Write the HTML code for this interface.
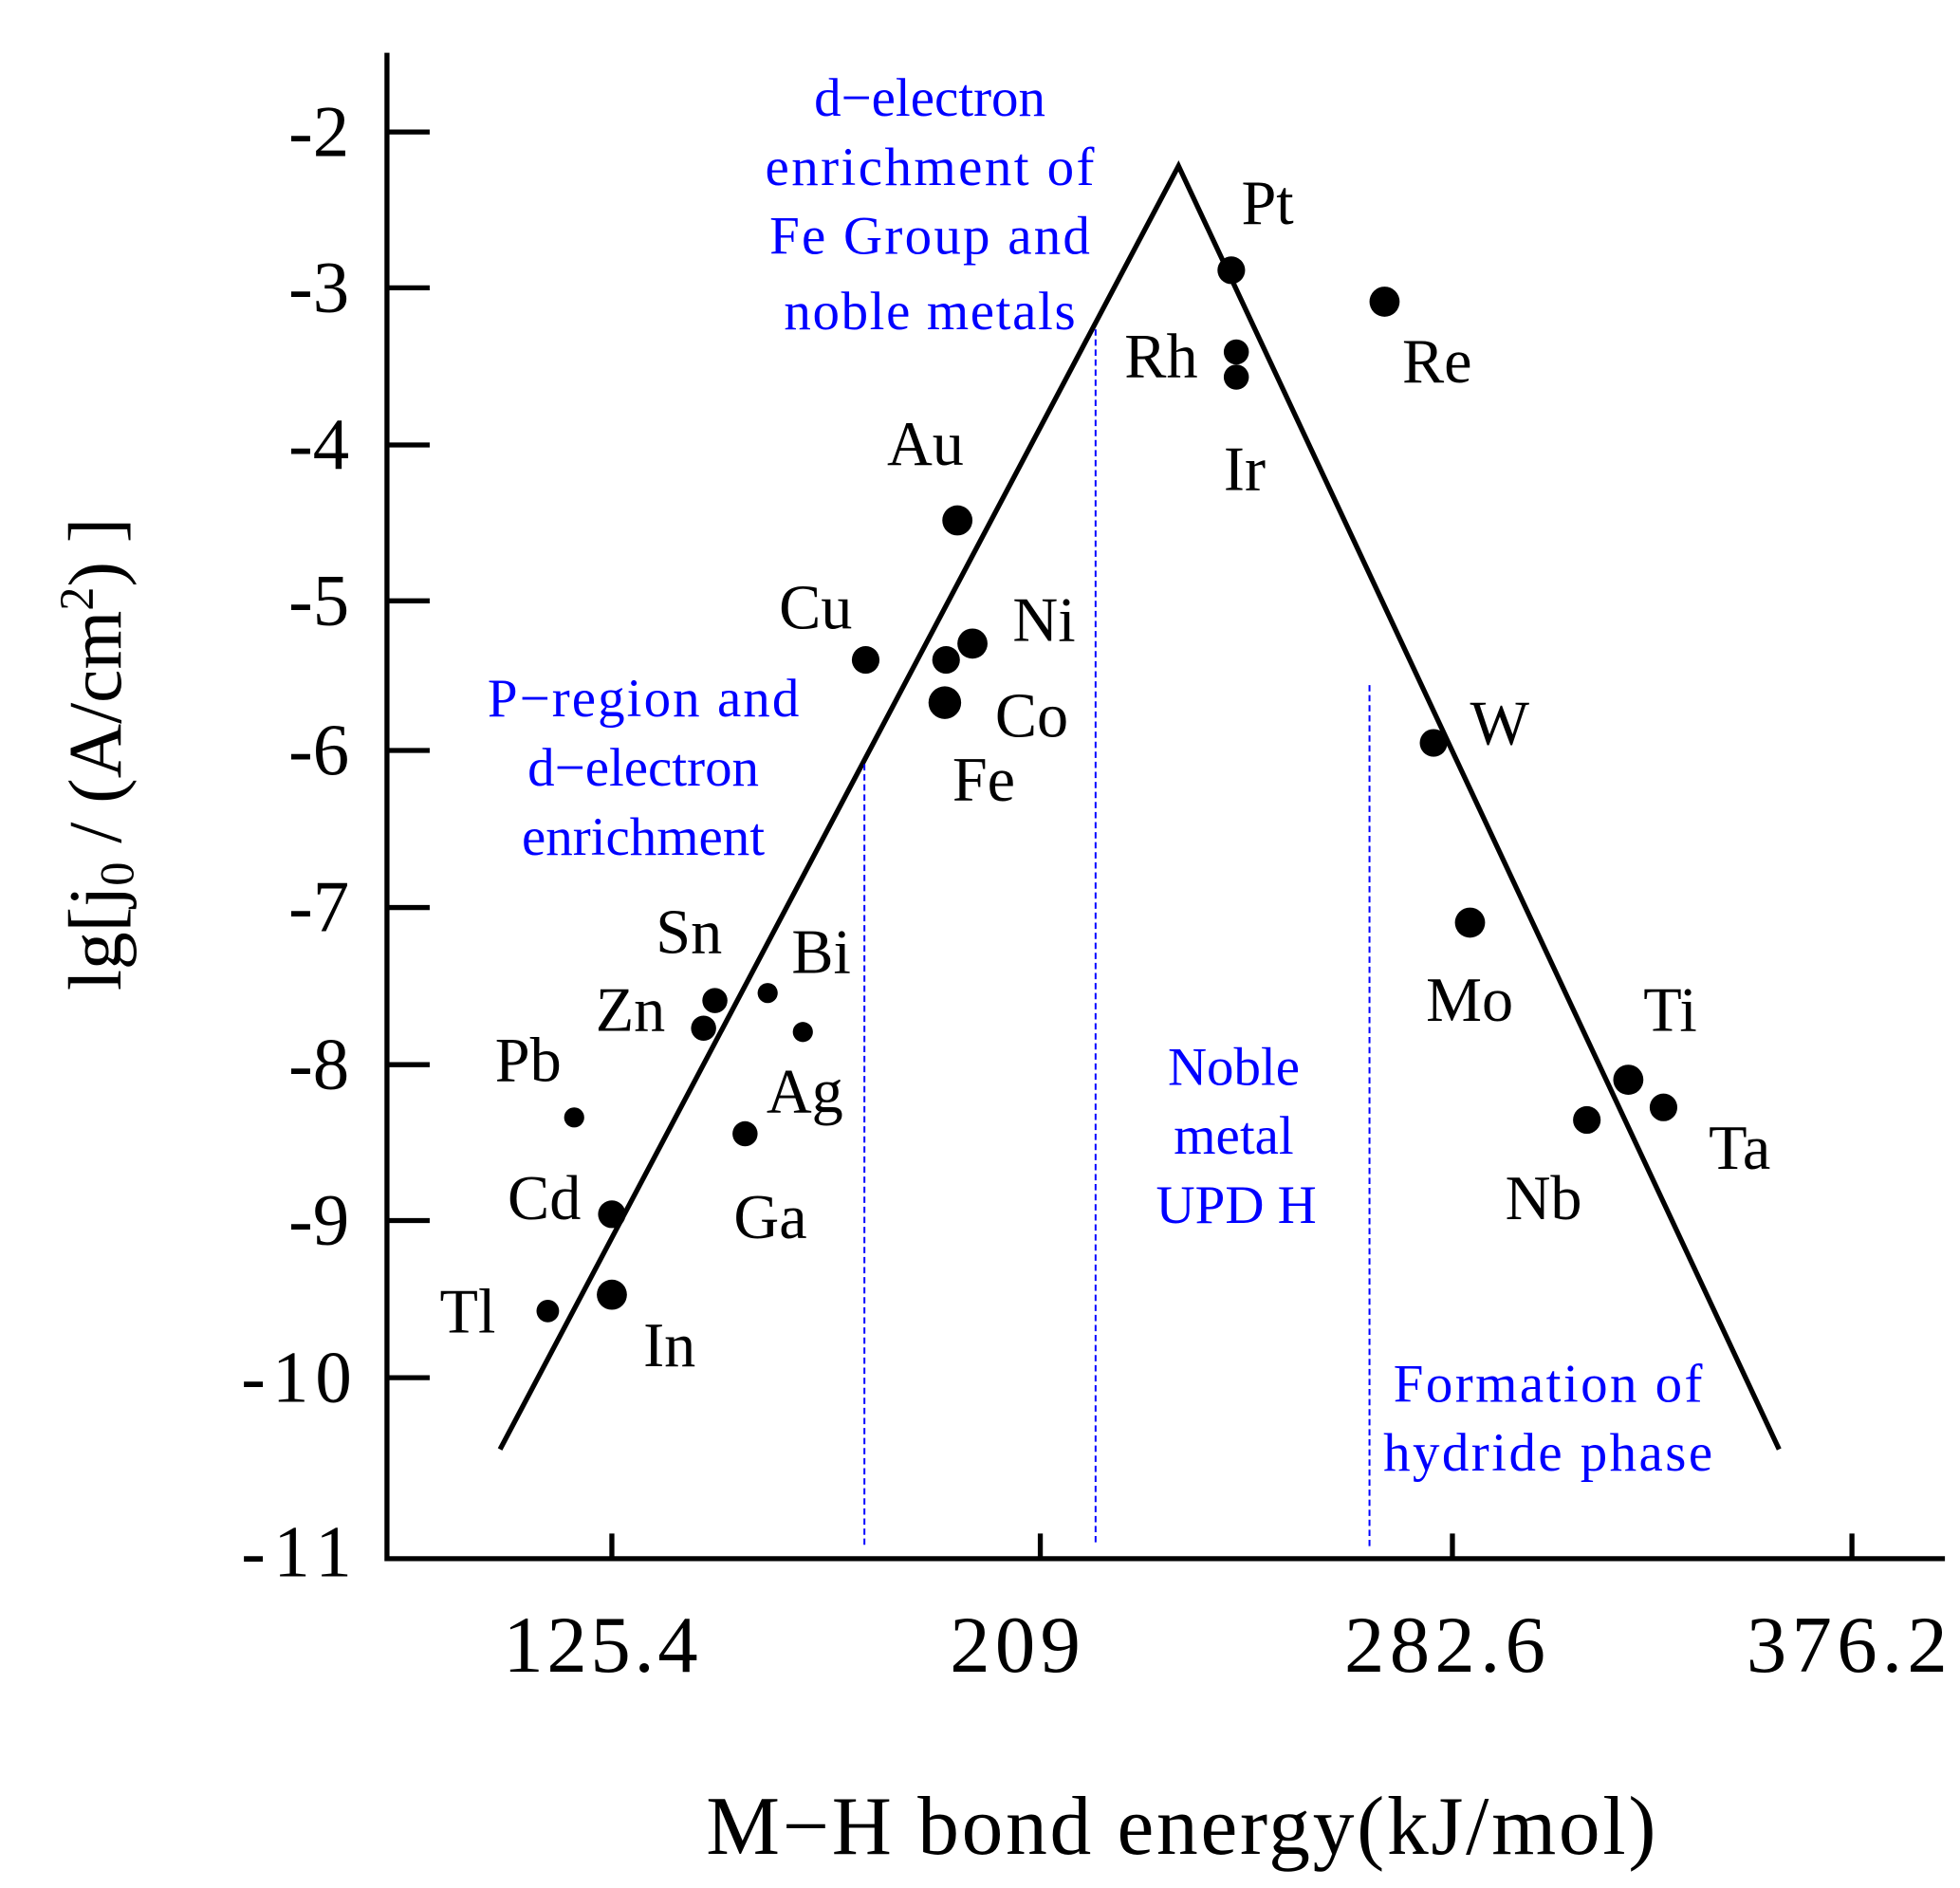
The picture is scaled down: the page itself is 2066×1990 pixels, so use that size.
<!DOCTYPE html>
<html><head><meta charset="utf-8"><style>html,body{margin:0;padding:0;background:#fff}svg{display:block}</style></head>
<body>
<svg width="2066" height="1990" viewBox="0 0 1560 1502" preserveAspectRatio="none" xmlns="http://www.w3.org/2000/svg" font-family="'Liberation Serif', serif">
<rect width="1560" height="1502" fill="#fff"/>
<path d="M308 42 V1240 H1548" fill="none" stroke="#000" stroke-width="4"/>
<g stroke="#000" stroke-width="4">
<line x1="308" y1="105" x2="342" y2="105"/>
<line x1="308" y1="229" x2="342" y2="229"/>
<line x1="308" y1="354" x2="342" y2="354"/>
<line x1="308" y1="478" x2="342" y2="478"/>
<line x1="308" y1="597" x2="342" y2="597"/>
<line x1="308" y1="722" x2="342" y2="722"/>
<line x1="308" y1="847" x2="342" y2="847"/>
<line x1="308" y1="971" x2="342" y2="971"/>
<line x1="308" y1="1096" x2="342" y2="1096"/>
<line x1="487" y1="1240" x2="487" y2="1220"/>
<line x1="828" y1="1240" x2="828" y2="1220"/>
<line x1="1156" y1="1240" x2="1156" y2="1220"/>
<line x1="1474" y1="1240" x2="1474" y2="1220"/>
</g>
<g font-size="58" text-anchor="end">
<text x="278" y="124">-2</text><text x="278" y="248">-3</text><text x="278" y="373">-4</text>
<text x="278" y="497">-5</text><text x="278" y="616">-6</text><text x="278" y="741">-7</text>
<text x="278" y="866">-8</text><text x="278" y="990">-9</text><text x="280" y="1115" textLength="88">-10</text>
<text x="280" y="1254" textLength="88">-11</text>
</g>
<g font-size="64" text-anchor="middle">
<text x="478" y="1330" textLength="155">125.4</text><text x="808" y="1330" textLength="104">209</text>
<text x="1150" y="1330" textLength="160">282.6</text><text x="1470" y="1330" textLength="160">376.2</text>
</g>
<text x="940" y="1475" font-size="66" text-anchor="middle" textLength="756">M−H bond energy(kJ/mol)</text>
<text transform="translate(96,600) rotate(-90)" font-size="60" text-anchor="middle">lg[j<tspan font-size="38" dy="10">0</tspan><tspan dy="-10"> / (A/cm</tspan><tspan font-size="38" dy="-22">2</tspan><tspan dy="22">) ]</tspan></text>
<path d="M398 1153 L938 132 L1416 1153" fill="none" stroke="#000" stroke-width="4"/>
<g stroke="#0000ff" stroke-width="1.5" stroke-dasharray="5,3">
<line x1="688" y1="608" x2="688" y2="1230"/>
<line x1="872" y1="262" x2="872" y2="1230"/>
<line x1="1090" y1="545" x2="1090" y2="1230"/>
</g>
<g fill="#000">
<circle cx="980" cy="215" r="11"/><circle cx="1102" cy="240" r="12"/>
<circle cx="984" cy="280" r="10"/><circle cx="984" cy="300" r="10"/>
<circle cx="762" cy="414" r="12"/><circle cx="689" cy="525" r="11"/>
<circle cx="753" cy="525" r="11"/><circle cx="774" cy="512" r="12"/>
<circle cx="752" cy="559" r="13"/><circle cx="1141" cy="591" r="11"/>
<circle cx="1170" cy="734" r="12"/><circle cx="569" cy="796" r="10"/>
<circle cx="560" cy="818" r="10"/><circle cx="611" cy="790" r="8"/>
<circle cx="639" cy="821" r="8"/><circle cx="457" cy="889" r="8"/>
<circle cx="593" cy="902" r="10"/><circle cx="487" cy="966" r="11"/>
<circle cx="436" cy="1043" r="9"/><circle cx="487" cy="1030" r="12"/>
<circle cx="1296" cy="859" r="12"/><circle cx="1324" cy="881" r="11"/>
<circle cx="1263" cy="891" r="11"/>
</g>
<g font-size="50">
<text x="988" y="178">Pt</text><text x="1116" y="304">Re</text><text x="895" y="300">Rh</text>
<text x="974" y="390">Ir</text><text x="706" y="370">Au</text><text x="620" y="500">Cu</text>
<text x="806" y="510">Ni</text><text x="792" y="586">Co</text><text x="758" y="637">Fe</text>
<text x="1170" y="592">W</text><text x="1135" y="812">Mo</text><text x="1308" y="820">Ti</text>
<text x="1360" y="930">Ta</text><text x="1198" y="970">Nb</text>
<text x="522" y="758">Sn</text><text x="630" y="774">Bi</text><text x="474" y="820">Zn</text>
<text x="394" y="860">Pb</text><text x="610" y="885">Ag</text><text x="584" y="985">Ga</text>
<text x="404" y="970">Cd</text><text x="350" y="1060">Tl</text><text x="512" y="1087">In</text>
</g>
<g font-size="43" fill="#0000ff" text-anchor="middle">
<text x="740" y="92">d−electron</text><text x="740" y="147" textLength="262">enrichment  of</text>
<text x="740" y="202" textLength="255">Fe Group and</text><text x="740" y="262" textLength="232">noble  metals</text>
<text x="512" y="570" textLength="248">P−region and</text><text x="512" y="625">d−electron</text><text x="512" y="680">enrichment</text>
<text x="982" y="863">Noble</text><text x="982" y="918">metal</text><text x="984" y="973">UPD H</text>
<text x="1232" y="1115" textLength="246">Formation  of</text><text x="1232" y="1170" textLength="262">hydride phase</text>
</g>
</svg>
</body></html>
